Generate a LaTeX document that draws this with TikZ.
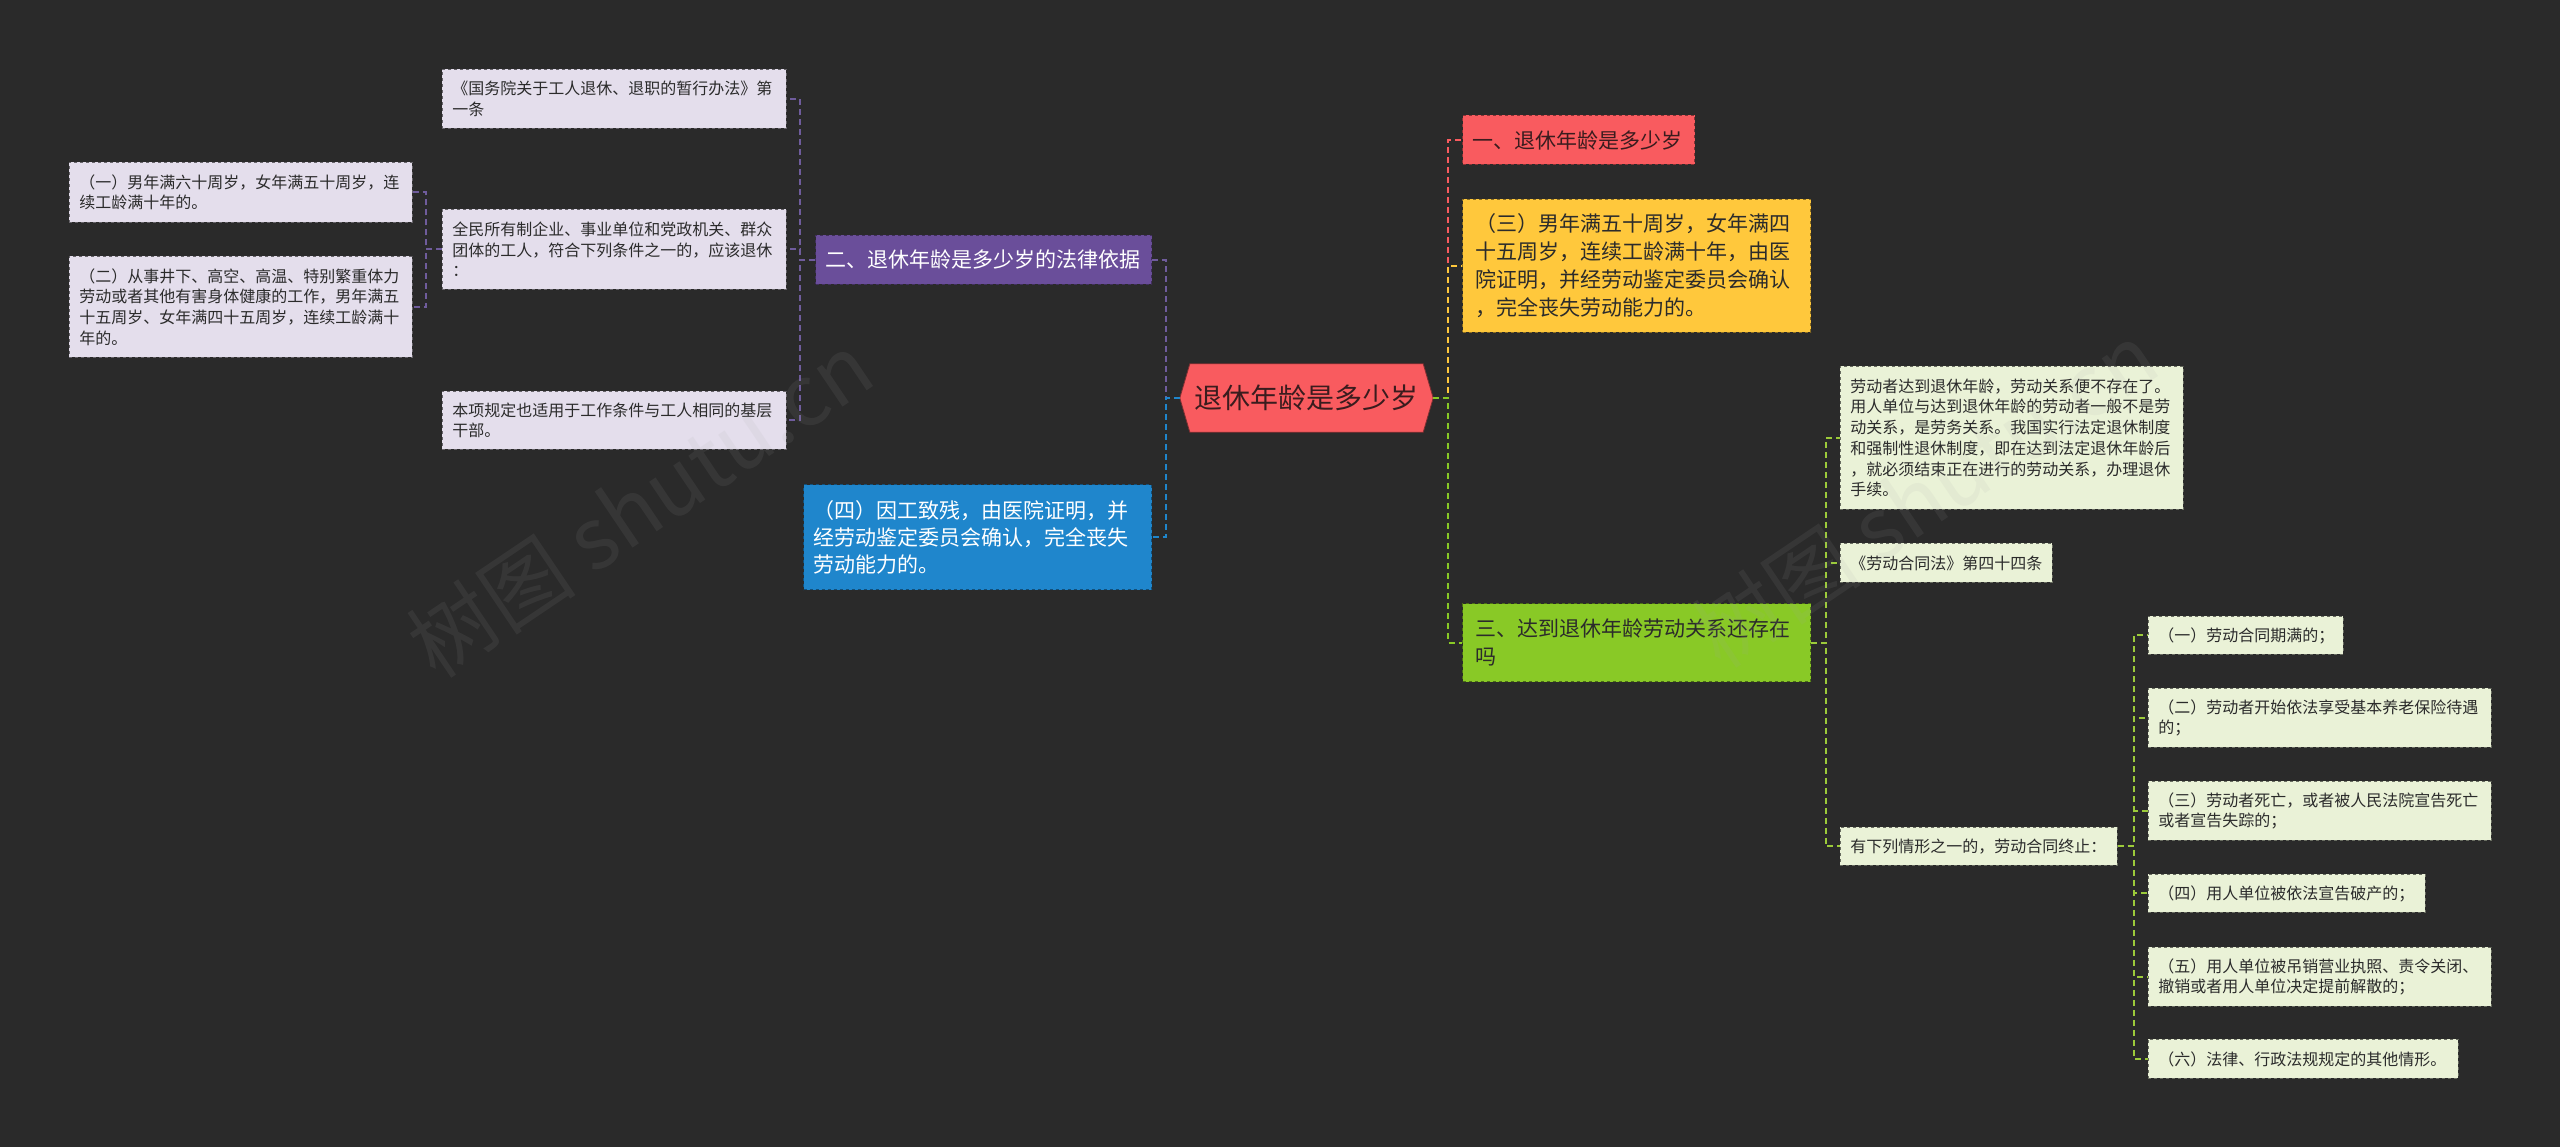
\documentclass[tikz,border=0pt]{standalone}
\usepackage{fontspec}
\setmainfont{Noto Sans CJK SC}
\usetikzlibrary{backgrounds}
\definecolor{bgc}{HTML}{2A2A2A}
\definecolor{cred}{HTML}{F95B5F}
\definecolor{cyel}{HTML}{FFC83C}
\definecolor{cgrn}{HTML}{89C926}
\definecolor{cpur}{HTML}{6A4E9A}
\definecolor{cpurl}{HTML}{6F5C9C}
\definecolor{cblu}{HTML}{1F86CC}
\definecolor{lav}{HTML}{E4DEEC}
\definecolor{lgrn}{HTML}{EAF2D7}
\definecolor{dtxt}{HTML}{2B2B2B}
\definecolor{ctxt}{HTML}{3A1C1E}
\definecolor{cgrnl}{HTML}{9CCB3A}
\begin{document}
\begin{tikzpicture}[x=1pt,y=-1pt,
  conn/.style={line width=2pt, dash pattern=on 6pt off 4pt},
  smallbox/.style={anchor=north west, inner xsep=10pt, inner ysep=0pt, align=left,
    font=\fontsize{16}{20.7}\selectfont, text=dtxt, dashed, line width=0.9pt},
  lavbox/.style={smallbox, fill=lav, draw=lav!45!black},
  grnbox/.style={smallbox, fill=lgrn, draw=lgrn!45!black},
  bigbox/.style={anchor=north west, inner xsep=12pt, inner ysep=0pt, align=left,
    font=\fontsize{21}{28}\selectfont, dashed, line width=1pt},
  wmark/.style={rotate=34, font=\fontsize{85}{85}\selectfont, text=gray!70, opacity=0.1}
]
\begin{scope}[on background layer]
  \fill[bgc] (0,0) rectangle (2560,1147);
\end{scope}
\useasboundingbox (0,0) rectangle (2560,1147);

% central node
\node[minimum width=253pt, minimum height=68pt, inner sep=0pt, text=ctxt,
  font=\fontsize{28}{28}\selectfont] (center) at (1306.5,398) {退休年龄是多少岁};
\begin{scope}[on background layer]
  \filldraw[fill=cred, draw=cred!50!black, line width=0.8pt]
    (center.west) -- ([xshift=10pt]center.north west) -- ([xshift=-10pt]center.north east)
    -- (center.east) -- ([xshift=-10pt]center.south east) -- ([xshift=10pt]center.south west) -- cycle;
\end{scope}

% left main branches
\node[bigbox, fill=cpur, draw=cpur!60!black, text=white, inner xsep=10pt,
  minimum height=49pt, text width=316pt] (P) at (815,235) {二、退休年龄是多少岁的法律依据};
\node[bigbox, fill=cblu, draw=cblu!60!black, text=white, inner xsep=10pt,
  minimum height=105pt, text width=328pt, font=\fontsize{21}{27}\selectfont] (B) at (803,484)
  {（四）因工致残，由医院证明，并\\经劳动鉴定委员会确认，完全丧失\\劳动能力的。};

% purple children
\node[lavbox, minimum height=59pt, text width=324pt] (L1) at (442,69)
  {《国务院关于工人退休、退职的暂行办法》第\\一条};
\node[lavbox, minimum height=80pt, text width=324pt] (L2) at (442,209)
  {全民所有制企业、事业单位和党政机关、群众\\团体的工人，符合下列条件之一的，应该退休\\：};
\node[lavbox, minimum height=58pt, text width=324pt] (L3) at (442,391)
  {本项规定也适用于工作条件与工人相同的基层\\干部。};
\node[lavbox, minimum height=60pt, text width=323pt] (LL1) at (69,162)
  {（一）男年满六十周岁，女年满五十周岁，连\\续工龄满十年的。};
\node[lavbox, minimum height=101pt, text width=323pt] (LL2) at (69,256)
  {（二）从事井下、高空、高温、特别繁重体力\\劳动或者其他有害身体健康的工作，男年满五\\十五周岁、女年满四十五周岁，连续工龄满十\\年的。};

% right main branches
\node[bigbox, fill=cred, draw=cred!55!black, text=ctxt, inner xsep=10pt,
  minimum height=49pt, text width=212pt] (R) at (1462,115) {一、退休年龄是多少岁};
\node[bigbox, fill=cyel, draw=cyel!55!black, text=dtxt, inner xsep=13pt,
  minimum height=133pt, text width=322pt] (Y) at (1462,199)
  {（三）男年满五十周岁，女年满四\\十五周岁，连续工龄满十年，由医\\院证明，并经劳动鉴定委员会确认\\，完全丧失劳动能力的。};
\node[bigbox, fill=cgrn, draw=cgrn!55!black, text=dtxt, inner xsep=13pt,
  minimum height=78pt, text width=322pt] (G) at (1462,603)
  {三、达到退休年龄劳动关系还存在\\吗};

% green children
\node[grnbox, minimum height=143pt, text width=323pt] (G1) at (1840,366)
  {劳动者达到退休年龄，劳动关系便不存在了。\\用人单位与达到退休年龄的劳动者一般不是劳\\动关系，是劳务关系。我国实行法定退休制度\\和强制性退休制度，即在达到法定退休年龄后\\，就必须结束正在进行的劳动关系，办理退休\\手续。};
\node[grnbox, minimum height=39pt, text width=192pt] (G2) at (1840,543)
  {《劳动合同法》第四十四条};
\node[grnbox, minimum height=38pt, text width=257pt] (G3) at (1840,827)
  {有下列情形之一的，劳动合同终止：};

\node[grnbox, minimum height=38pt, text width=175pt] (H1) at (2148,616)
  {（一）劳动合同期满的；};
\node[grnbox, minimum height=59pt, text width=323pt] (H2) at (2148,688)
  {（二）劳动者开始依法享受基本养老保险待遇\\的；};
\node[grnbox, minimum height=59pt, text width=323pt] (H3) at (2148,781)
  {（三）劳动者死亡，或者被人民法院宣告死亡\\或者宣告失踪的；};
\node[grnbox, minimum height=38pt, text width=257pt] (H4) at (2148,874)
  {（四）用人单位被依法宣告破产的；};
\node[grnbox, minimum height=59pt, text width=323pt] (H5) at (2148,947)
  {（五）用人单位被吊销营业执照、责令关闭、\\撤销或者用人单位决定提前解散的；};
\node[grnbox, minimum height=39pt, text width=290pt] (H6) at (2148,1039)
  {（六）法律、行政法规规定的其他情形。};

% connectors
\draw[conn, cpurl] (center.west) -- ++(-14,0) |- (P.east);
\draw[conn, cblu] (center.west) -- ++(-14,0) |- (B.east);
\draw[conn, cred] (center.east) -- ++(15,0) |- (R.west);
\draw[conn, cyel] (center.east) -- ++(15,0) |- (Y.west);
\draw[conn, cgrn] (center.east) -- ++(15,0) |- (G.west);

\foreach \t in {L1,L2,L3}
  \draw[conn, cpurl] (P.west) -- ++(-15,0) |- (\t.east);
\foreach \t in {LL1,LL2}
  \draw[conn, cpurl] (L2.west) -- ++(-16,0) |- (\t.east);
\foreach \t in {G1,G2,G3}
  \draw[conn, cgrnl] (G.east) -- ++(15,0) |- (\t.west);
\foreach \t in {H1,H2,H3,H4,H5,H6}
  \draw[conn, cgrnl] (G3.east) -- ++(16,0) |- (\t.west);

% watermarks
\node[wmark] (wm1) at (640,505) {树图 shutu.cn};
\node[wmark] (wm2) at (1925,495) {树图 shutu.cn};
\end{tikzpicture}
\end{document}
